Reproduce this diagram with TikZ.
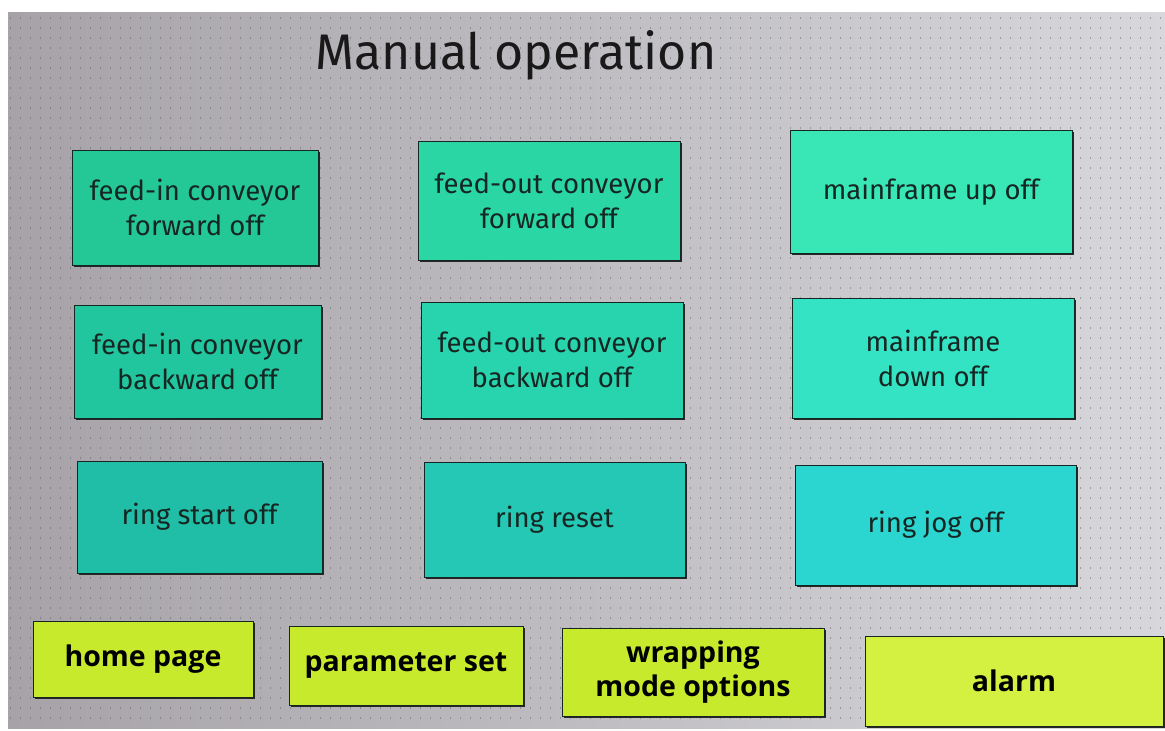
\documentclass[tikz,border=0pt]{standalone}
\usepackage{fontspec}
\setmainfont{Fira Sans}
\newfontfamily\navfont{Open Sans}
\usetikzlibrary{shadows}
\definecolor{screenL}{RGB}{166,162,168}
\definecolor{screenR}{RGB}{216,216,220}
\definecolor{ink}{RGB}{22,38,34}
\definecolor{dotgray}{RGB}{90,90,96}
% button fills, greener at top left, bluer at bottom right
\definecolor{tealA}{RGB}{36,200,150}
\definecolor{tealB}{RGB}{42,214,164}
\definecolor{tealC}{RGB}{56,230,182}
\definecolor{tealD}{RGB}{34,198,158}
\definecolor{tealE}{RGB}{40,212,174}
\definecolor{tealF}{RGB}{52,226,196}
\definecolor{tealG}{RGB}{32,190,166}
\definecolor{tealH}{RGB}{36,200,180}
\definecolor{tealI}{RGB}{44,214,208}
\definecolor{lime}{RGB}{200,234,44}
\definecolor{limeR}{RGB}{212,240,64}

\begin{document}
\begin{tikzpicture}[x=1pt, y=-1pt,
  panelbtn/.style={draw=ink, line width=1pt, inner sep=0pt, outer sep=0pt,
                   align=center, text=ink, font=\fontsize{27.5}{35}\selectfont,
                   drop shadow={shadow xshift=2pt, shadow yshift=-2pt, fill=black!85, opacity=1}},
  navbtn/.style={panelbtn, text=black, font=\navfont\fontsize{28.5}{34}\selectfont\bfseries},
  sz/.style 2 args={minimum width=#1, minimum height=#2},
]
  \useasboundingbox (0,0) rectangle (1165,731);

  % screen and its dot grid
  \fill[left color=screenL, right color=screenR] (8,12) rectangle (1165,728);
  \foreach \y in {18,28,...,718}
    \draw[dotgray, opacity=.45, line width=1.4pt, dash pattern=on 1.4pt off 8.6pt] (10,\y) -- (1165,\y);

  \node[anchor=base, text=black!90, font=\fontsize{50}{56}\selectfont] (title) at (516,69) {Manual operation};

  \node[panelbtn, fill=tealA, sz={246}{115}] (finfwd) at (195,207.5) {feed-in conveyor\\forward off};
  \node[panelbtn, fill=tealB, sz={262}{119}] (foutfwd) at (549,200.5) {feed-out conveyor\\forward off};
  \node[panelbtn, fill=tealC, sz={282}{123}] (mfup) at (931,191.5) {mainframe up off};

  \node[panelbtn, fill=tealD, sz={247}{113}] (finbwd) at (197.5,361.5) {feed-in conveyor\\backward off};
  \node[panelbtn, fill=tealE, sz={262}{116}] (foutbwd) at (552,360) {feed-out conveyor\\backward off};
  \node[panelbtn, fill=tealF, sz={282}{120}] (mfdown) at (933,358) {mainframe\\down off};

  \node[panelbtn, fill=tealG, sz={245}{112}] (ringstart) at (199.5,517) {ring start off};
  \node[panelbtn, fill=tealH, sz={261}{115}] (ringreset) at (554.5,519.5) {ring reset};
  \node[panelbtn, fill=tealI, sz={281}{120}] (ringjog) at (935.5,525) {ring jog off};

  \node[navbtn, fill=lime, sz={220}{76}] (home) at (143,659) {home page};
  \node[navbtn, fill=lime, sz={234}{79}] (param) at (406,665.5) {parameter set};
  \node[navbtn, fill=lime, sz={262}{88}] (wrapmode) at (693,672) {wrapping\\mode options};
  \node[navbtn, fill=limeR, sz={298}{90}] (alarm) at (1014,681) {alarm};
\end{tikzpicture}
\end{document}
